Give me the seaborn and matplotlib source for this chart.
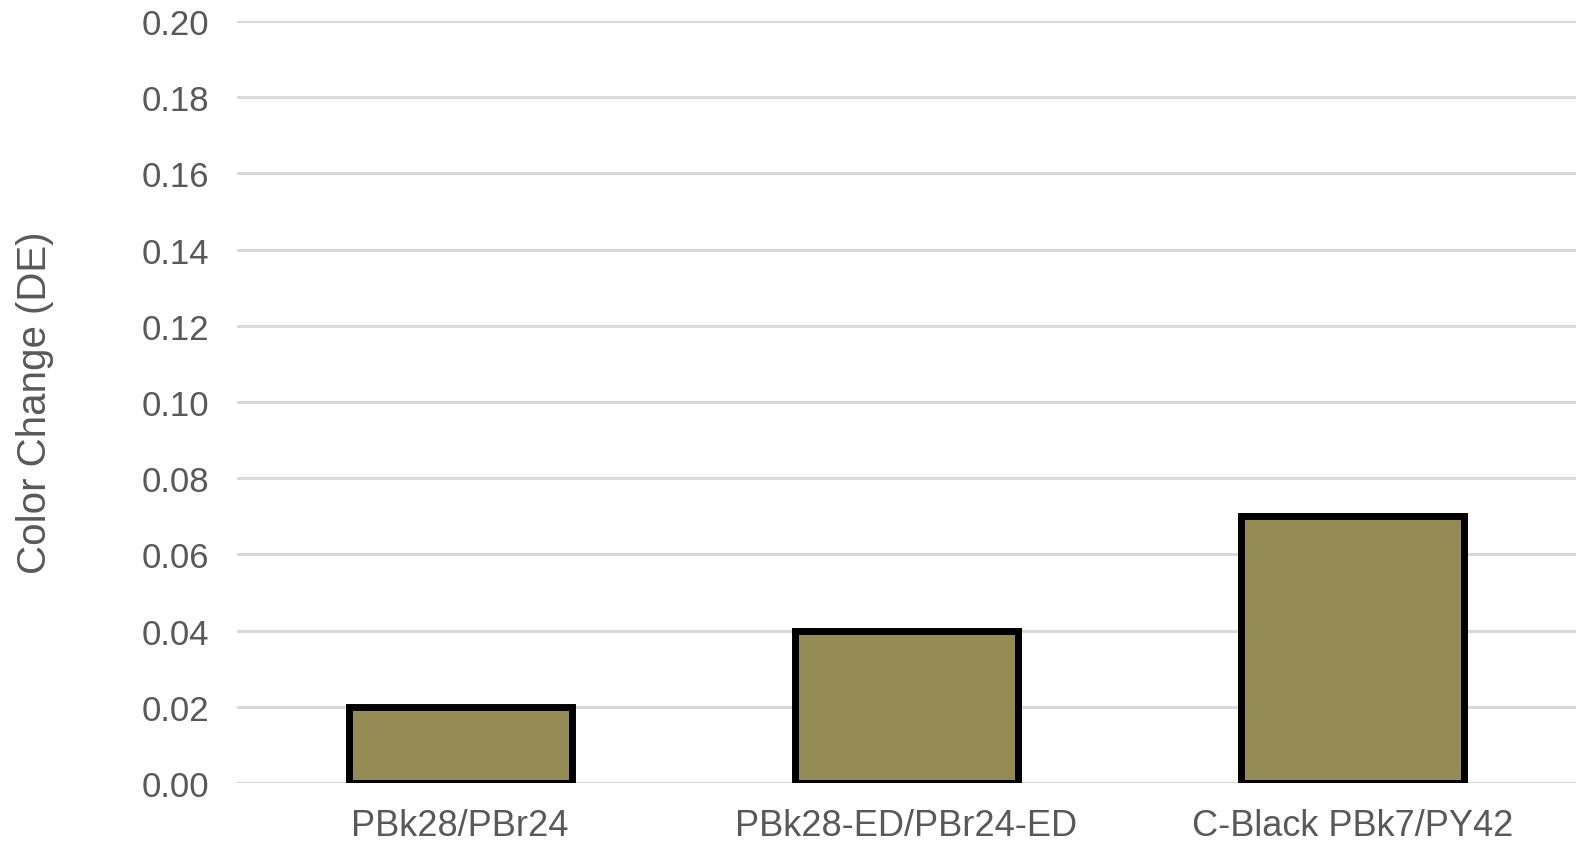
import numpy as np
import pandas as pd
import matplotlib
matplotlib.use("Agg")
import matplotlib.pyplot as plt
import seaborn as sns

# values
samples = ["PBk28/PBr24", "PBk28-ED/PBr24-ED", "C-Black PBk7/PY42"]
color_change = [0.020, 0.040, 0.070]
y_ticks = [0.00, 0.02, 0.04, 0.06, 0.08, 0.10, 0.12, 0.14, 0.16, 0.18, 0.20]

data = pd.DataFrame({"sample": samples, "de": color_change})

sns.set_style("white")
plt.rcParams['font.family'] = ['Liberation Sans', 'DejaVu Sans']

fig = plt.figure(figsize=(15.76, 8.53), dpi=100)
ax = fig.add_axes([237 / 1576, 1 - 784 / 853, 1 - 237 / 1576, (784 - 22) / 853])

sns.barplot(data=data, x="sample", y="de", color="#958B54", saturation=1,
            edgecolor="black", linewidth=5, width=0.5, ax=ax, zorder=3)

ax.set_xlim(-0.5, 2.5)
ax.set_ylim(0, 0.20)
ax.set_yticks(y_ticks)
ax.set_yticklabels([f"{v:.2f}" for v in y_ticks])
ax.yaxis.grid(True, color="#D9D9D9", linewidth=2.2, zorder=0)
ax.set_axisbelow(True)
for s in ax.spines.values():
    s.set_visible(False)
ax.tick_params(axis="both", length=0, colors="#595959")
ax.tick_params(axis="y", pad=20, labelsize=25)
ax.tick_params(axis="x", pad=18, labelsize=26)
ax.set_xlabel("")
ax.set_ylabel("Color Change (DE)", fontsize=29, color="#595959")
ax.yaxis.set_label_coords(-0.137, 0.5)

fig.savefig("out.png", dpi=100)
